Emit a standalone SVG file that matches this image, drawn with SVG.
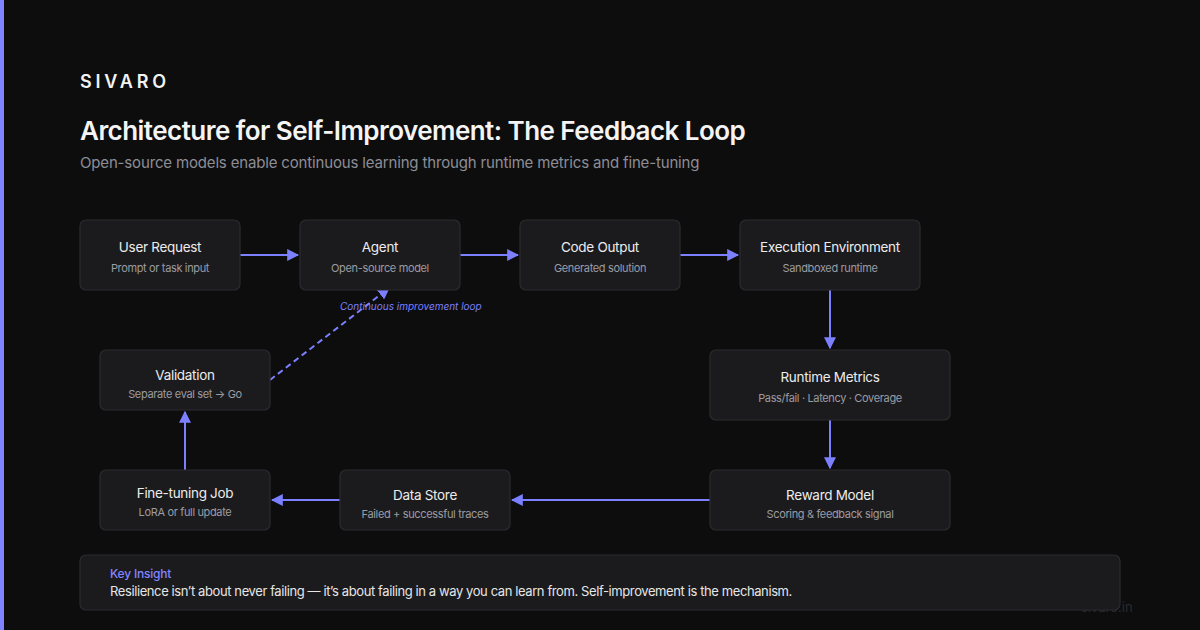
<svg xmlns="http://www.w3.org/2000/svg" width="1200" height="630" viewBox="0 0 1200 630">
<defs>
<style>
.node rect{fill:#1b1b1e;stroke:#2c2c30;stroke-width:1.2}
.t{font-family:Inter,"Liberation Sans",sans-serif;font-size:13.5px;letter-spacing:-0.3px;fill:#ececec;text-anchor:middle}
.s{font-family:Inter,"Liberation Sans",sans-serif;font-size:11px;letter-spacing:-0.35px;fill:#9b9ba2;text-anchor:middle}
.edge{stroke:#7c80ff;stroke-width:2;fill:none}
</style>
<marker id="ah" viewBox="0 0 10 10" refX="9" refY="5" markerWidth="6" markerHeight="6" markerUnits="strokeWidth" orient="auto">
<path d="M0,0 L10,5 L0,10 z" fill="#7c80ff"/>
</marker>
</defs>
<rect width="1200" height="630" fill="#0d0d0e"/>
<rect x="0" y="0" width="4" height="630" fill="#8082ff"/>
<text x="80" y="88" font-family="Inter,'Liberation Sans',sans-serif" font-size="18" font-weight="600" letter-spacing="3.8" fill="#f2f2f2">SIVARO</text>
<text x="80" y="140" font-family="Inter,'Liberation Sans',sans-serif" font-size="26" font-weight="600" letter-spacing="-0.54" fill="#f4f4f4">Architecture for Self-Improvement: The Feedback Loop</text>
<text x="80" y="168" font-family="Inter,'Liberation Sans',sans-serif" font-size="15" letter-spacing="-0.16" fill="#8d8d96">Open-source models enable continuous learning through runtime metrics and fine-tuning</text>

<g id="connectors">
<line class="edge" x1="240" y1="255" x2="298" y2="255" marker-end="url(#ah)"/>
<line class="edge" x1="460" y1="255" x2="518" y2="255" marker-end="url(#ah)"/>
<line class="edge" x1="680" y1="255" x2="738" y2="255" marker-end="url(#ah)"/>
<line class="edge" x1="830" y1="290" x2="830" y2="348" marker-end="url(#ah)"/>
<line class="edge" x1="830" y1="420" x2="830" y2="468" marker-end="url(#ah)"/>
<line class="edge" x1="710" y1="500" x2="512" y2="500" marker-end="url(#ah)"/>
<line class="edge" x1="340" y1="500" x2="272" y2="500" marker-end="url(#ah)"/>
<line class="edge" x1="185" y1="470" x2="185" y2="412" marker-end="url(#ah)"/>
<line class="edge" x1="270" y1="380" x2="389" y2="288" stroke-dasharray="6,4" marker-end="url(#ah)"/>
<text x="340" y="310" font-family="Inter,'Liberation Sans',sans-serif" font-size="10" font-style="italic" fill="#7c80ff">Continuous improvement loop</text>
</g>

<g id="user-request" class="node"><rect x="80" y="220" width="160" height="70" rx="6"/><text class="t" x="160" y="252">User Request</text><text class="s" x="160" y="272">Prompt or task input</text></g>
<g id="agent" class="node"><rect x="300" y="220" width="160" height="70" rx="6"/><text class="t" x="380" y="252">Agent</text><text class="s" x="380" y="272">Open-source model</text></g>
<g id="code-output" class="node"><rect x="520" y="220" width="160" height="70" rx="6"/><text class="t" x="600" y="252">Code Output</text><text class="s" x="600" y="272">Generated solution</text></g>
<g id="execution-environment" class="node"><rect x="740" y="220" width="180" height="70" rx="6"/><text class="t" x="830" y="252">Execution Environment</text><text class="s" x="830" y="272">Sandboxed runtime</text></g>
<g id="runtime-metrics" class="node"><rect x="710" y="350" width="240" height="70" rx="6"/><text class="t" x="830" y="382">Runtime Metrics</text><text class="s" x="830" y="402">Pass/fail · Latency · Coverage</text></g>
<g id="reward-model" class="node"><rect x="710" y="470" width="240" height="60" rx="6"/><text class="t" x="830" y="500">Reward Model</text><text class="s" x="830" y="518">Scoring &amp; feedback signal</text></g>
<g id="data-store" class="node"><rect x="340" y="470" width="170" height="60" rx="6"/><text class="t" x="425" y="500">Data Store</text><text class="s" x="425" y="518">Failed + successful traces</text></g>
<g id="fine-tuning-job" class="node"><rect x="100" y="470" width="170" height="60" rx="6"/><text class="t" x="185" y="498">Fine-tuning Job</text><text class="s" x="185" y="516">LoRA or full update</text></g>
<g id="validation" class="node"><rect x="100" y="350" width="170" height="60" rx="6"/><text class="t" x="185" y="380">Validation</text><text class="s" x="185" y="398">Separate eval set → Go</text></g>

<text x="1081" y="612" font-family="Inter,'Liberation Sans',sans-serif" font-size="13" fill="#2a2a2e">sivaro.in</text>
<g id="key-insight" class="node"><rect x="80" y="555" width="1040" height="55" rx="6"/>
<text x="110" y="578" font-family="Inter,'Liberation Sans',sans-serif" font-size="12" font-weight="500" letter-spacing="-0.2" fill="#8285ff">Key Insight</text>
<text x="110" y="596" font-family="Inter,'Liberation Sans',sans-serif" font-size="13" letter-spacing="-0.4" fill="#e6e6e6">Resilience isn’t about never failing — it’s about failing in a way you can learn from. Self-improvement is the mechanism.</text></g>
</svg>
